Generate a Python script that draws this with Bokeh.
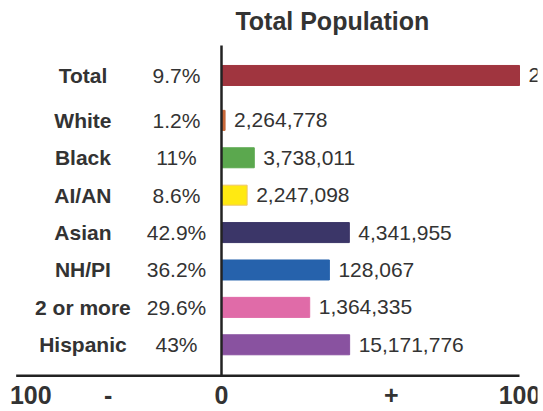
from bokeh.plotting import figure
from bokeh.models import Range1d, ColumnDataSource
from bokeh.core.properties import value
from bokeh.embed import file_html
from bokeh.resources import INLINE

# Population groups, percent change, and population counts
groups = ["Total", "White", "Black", "AI/AN", "Asian", "NH/PI", "2 or more", "Hispanic"]
pct_labels = ["9.7%", "1.2%", "11%", "8.6%", "42.9%", "36.2%", "29.6%", "43%"]
pct_change = [9.7, 1.2, 11.0, 8.6, 42.9, 36.2, 29.6, 43.0]
populations = ["29,256,020", "2,264,778", "3,738,011", "2,247,098", "4,341,955",
               "128,067", "1,364,335", "15,171,776"]
# The Total row is drawn as the full-scale reference bar
bar_length = [100.0] + pct_change[1:]

colors = ["#A0353F", "#C8683A", "#5BA84E", "#FFE912", "#3B3668", "#2662AC", "#E06BA8", "#8952A0"]
edges = ["#A0353F", "#C8683A", "#5BA84E", "#EEC46A", "#3B3668", "#2662AC", "#E06BA8", "#8952A0"]

# Bottom scale labels
scale_ticks = [-64, -38, 0, 57, 100]
scale_labels = ["100", "-", "0", "+", "100"]

# Row positions (Total sits a little apart from the breakdown rows)
rows = [0.0] + [1.2 + i for i in range(len(groups) - 1)]

FONT = "Liberation Sans"
TEXT = "#333333"

p = figure(width=543, height=411, output_backend="svg", toolbar_location=None,
           x_range=Range1d(-74.16, 106.04), y_range=Range1d(8.984, -2.005),
           min_border_left=0, min_border_right=6, min_border_top=0, min_border_bottom=0)
p.axis.visible = False
p.grid.visible = False
p.outline_line_color = None
p.background_fill_color = "white"
p.border_fill_color = "white"

src = ColumnDataSource(dict(
    y=rows, length=bar_length, group=groups, pct=pct_labels, pop=populations,
    color=colors, edge=edges,
    gx=[-46.5] * len(groups), px=[-15.1] * len(groups),
))

p.hbar(y="y", left=0, right="length", height=0.535, fill_color="color",
       line_color="edge", line_width=1, source=src)

# Group names and percent change on the left
p.text(x="gx", y="y", text="group", source=src, text_font=value(FONT),
       text_font_size="21px", text_font_style="bold", text_color=TEXT,
       text_align="center", text_baseline="middle")
p.text(x="px", y="y", text="pct", source=src, text_font=value(FONT),
       text_font_size="21px", text_color=TEXT,
       text_align="center", text_baseline="middle")

# Population counts at the end of each bar
p.text(x="length", y="y", text="pop", source=src, text_font=value(FONT),
       text_font_size="21px", text_color=TEXT, x_offset=9,
       text_align="left", text_baseline="middle")

# Zero line and baseline
p.line(x=[0, 0], y=[-0.80, 8.03], line_color="#222222", line_width=2.5)
p.line(x=[-68.9, 100], y=[8.03, 8.03], line_color="#222222", line_width=2.5)

# Scale labels under the baseline
p.text(x=scale_ticks, y=[8.53] * len(scale_ticks), text=scale_labels,
       text_font=value(FONT), text_font_size="25px", text_font_style="bold",
       text_color=TEXT, text_align="center", text_baseline="middle")

# Title
p.text(x=[37.2], y=[-1.45], text=["Total Population"], text_font=value(FONT),
       text_font_size="25px", text_font_style="bold", text_color=TEXT,
       text_align="center", text_baseline="middle")

open("out.html", "w").write(file_html(p, INLINE))
